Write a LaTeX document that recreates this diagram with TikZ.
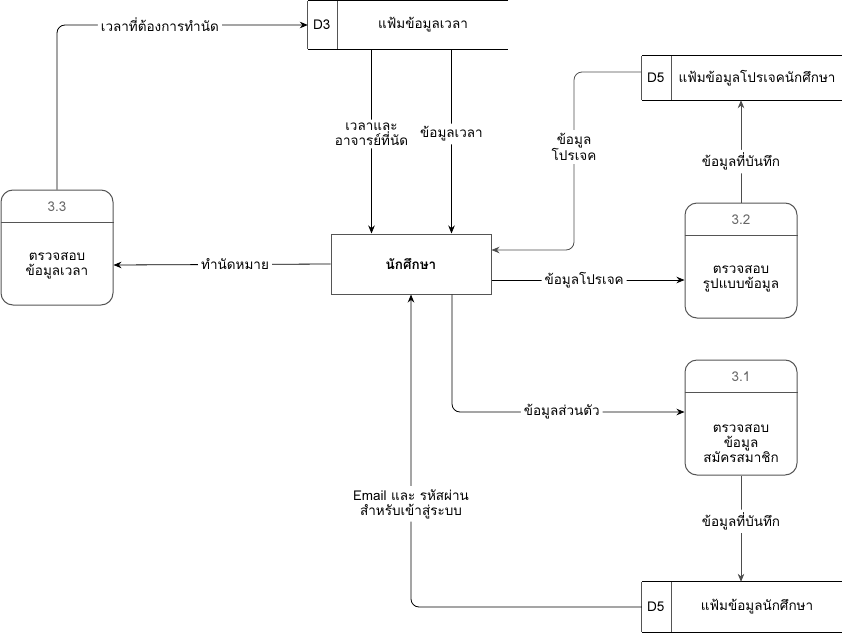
\documentclass[tikz,border=0pt]{standalone}
\usepackage{fontspec}
\setmainfont{Loma}[Script=Thai]
\usetikzlibrary{arrows.meta}
\definecolor{edgegray}{HTML}{4D4D4D}
\definecolor{boxgray}{HTML}{555555}
\definecolor{numgray}{HTML}{666666}
\begin{document}
\begin{tikzpicture}[x=1pt,y=-1pt,
  every node/.style={font=\fontsize{13.5}{15}\selectfont, align=center, inner sep=1pt},
  flow/.style={draw=black, line width=0.8pt, rounded corners=8pt, -{Stealth[length=8pt,width=6.5pt]}},
  flowgray/.style={flow, draw=edgegray},
  tag/.style={fill=white, inner sep=3pt},
  procbox/.style={draw=boxgray, line width=1pt, rounded corners=12pt, minimum width=112pt, minimum height=115pt, inner sep=0pt},
  entity/.style={draw=boxgray, line width=1pt, minimum width=160pt, minimum height=60pt, font=\fontsize{13.5}{15}\selectfont\bfseries},
  storeline/.style={line width=0.8pt},
  num/.style={text=numgray}
]
\useasboundingbox (0,0) rectangle (842,634);

% ---------- external entity ----------
\node[entity] (std) at (411,264) {นักศึกษา};

% ---------- processes ----------
\node[procbox] (p33) at (57,247.5) {};
\node[procbox] (p32) at (741,260.5) {};
\node[procbox] (p31) at (741,417.5) {};
\foreach \p/\n in {p33/3.3, p32/3.2, p31/3.1}{
  \draw[boxgray, line width=1pt] ([yshift=-33pt]\p.north west) -- ([yshift=-33pt]\p.north east);
  \node[num] at ([yshift=-17pt]\p.north) {\n};
}
\node at ([yshift=-76pt]p33.north) {ตรวจสอบ\\ข้อมูลเวลา};
\node at ([yshift=-76pt]p32.north) {ตรวจสอบ\\รูปแบบข้อมูล};
\node at ([yshift=-84pt]p31.north) {ตรวจสอบ\\ข้อมูล\\สมัครสมาชิก};

% ---------- data stores ----------
\node[minimum width=200pt, minimum height=48pt, inner sep=0pt] (d3) at (408,25) {};
\draw[storeline] (d3.north east) -- (d3.north west);
\draw[storeline, boxgray] (d3.north west) -- (d3.south west);
\draw[storeline] (d3.south west) -- (d3.south east);
\draw[storeline, boxgray] ([xshift=30pt]d3.north west) -- ([xshift=30pt]d3.south west);
\node at ([xshift=14pt]d3.west) {D3};
\node at ([xshift=15pt]d3.center) {แฟ้มข้อมูลเวลา};

\node[minimum width=200pt, minimum height=44pt, inner sep=0pt] (d5a) at (742,78) {};
\draw[storeline] (d5a.north east) -- (d5a.north west);
\draw[storeline, boxgray] (d5a.north west) -- (d5a.south west);
\draw[storeline] (d5a.south west) -- (d5a.south east);
\draw[storeline, boxgray] ([xshift=30pt]d5a.north west) -- ([xshift=30pt]d5a.south west);
\node at ([xshift=14pt]d5a.west) {D5};
\node at ([xshift=15pt]d5a.center) {แฟ้มข้อมูลโปรเจคนักศึกษา};

\node[minimum width=200pt, minimum height=50pt, inner sep=0pt] (d5b) at (742,607) {};
\draw[storeline] (d5b.north east) -- (d5b.north west);
\draw[storeline, boxgray] (d5b.north west) -- (d5b.south west);
\draw[storeline] (d5b.south west) -- (d5b.south east);
\draw[storeline, boxgray] ([xshift=30pt]d5b.north west) -- ([xshift=30pt]d5b.south west);
\node at ([xshift=14pt]d5b.west) {D5};
\node at ([xshift=15pt]d5b.center) {แฟ้มข้อมูลนักศึกษา};

% ---------- data flows ----------
% 3.3 -> D3
\draw[flow] (p33.north) |- node[tag, pos=0.705] {เวลาที่ต้องการทำนัด} (d3.west);
% D3 -> student
\draw[flow] (d3.south west -| std.north west) ++(41,0) coordinate (a1) -- node[tag, pos=0.46] {เวลาและ\\อาจารย์ที่นัด} (a1 |- std.north);
\draw[flow] (d3.south west -| std.north west) ++(121,0) coordinate (a2) -- node[tag, pos=0.46] {ข้อมูลเวลา} (a2 |- std.north);
% D5 (projects) -> student
\coordinate (b1) at (574,250);
\draw[flowgray] ([yshift=6pt]d5a.west) -| (b1) -- ([yshift=14pt]std.east);
\node[tag] at (574,147) {ข้อมูล\\โปรเจค};
% student -> 3.2
\draw[flow] ([yshift=-16pt]std.east) -- node[tag, pos=0.48] {ข้อมูลโปรเจค} ([yshift=-19.5pt]p32.west);
% 3.2 -> D5 (projects)
\draw[flowgray] (p32.north) -- node[tag, pos=0.4] {ข้อมูลที่บันทึก} (d5a.south -| p32.north);
% student -> 3.3
\draw[flow] (std.west) -- node[tag, pos=0.44] {ทำนัดหมาย} ([yshift=-17.5pt]p33.east);
% student -> 3.1
\draw[flow] ([xshift=41pt]std.south) |- node[tag, pos=0.736] {ข้อมูลส่วนตัว} ([yshift=5.5pt]p31.west);
% 3.1 -> D5 (students)
\draw[flowgray] (p31.south) -- node[tag, pos=0.43] {ข้อมูลที่บันทึก} (d5b.north -| p31.south);
% D5 (students) -> student
\draw[flow] (d5b.west) -| node[tag, pos=0.665] {Email และ รหัสผ่าน\\สำหรับเข้าสู่ระบบ} (std.south);
\end{tikzpicture}
\end{document}
